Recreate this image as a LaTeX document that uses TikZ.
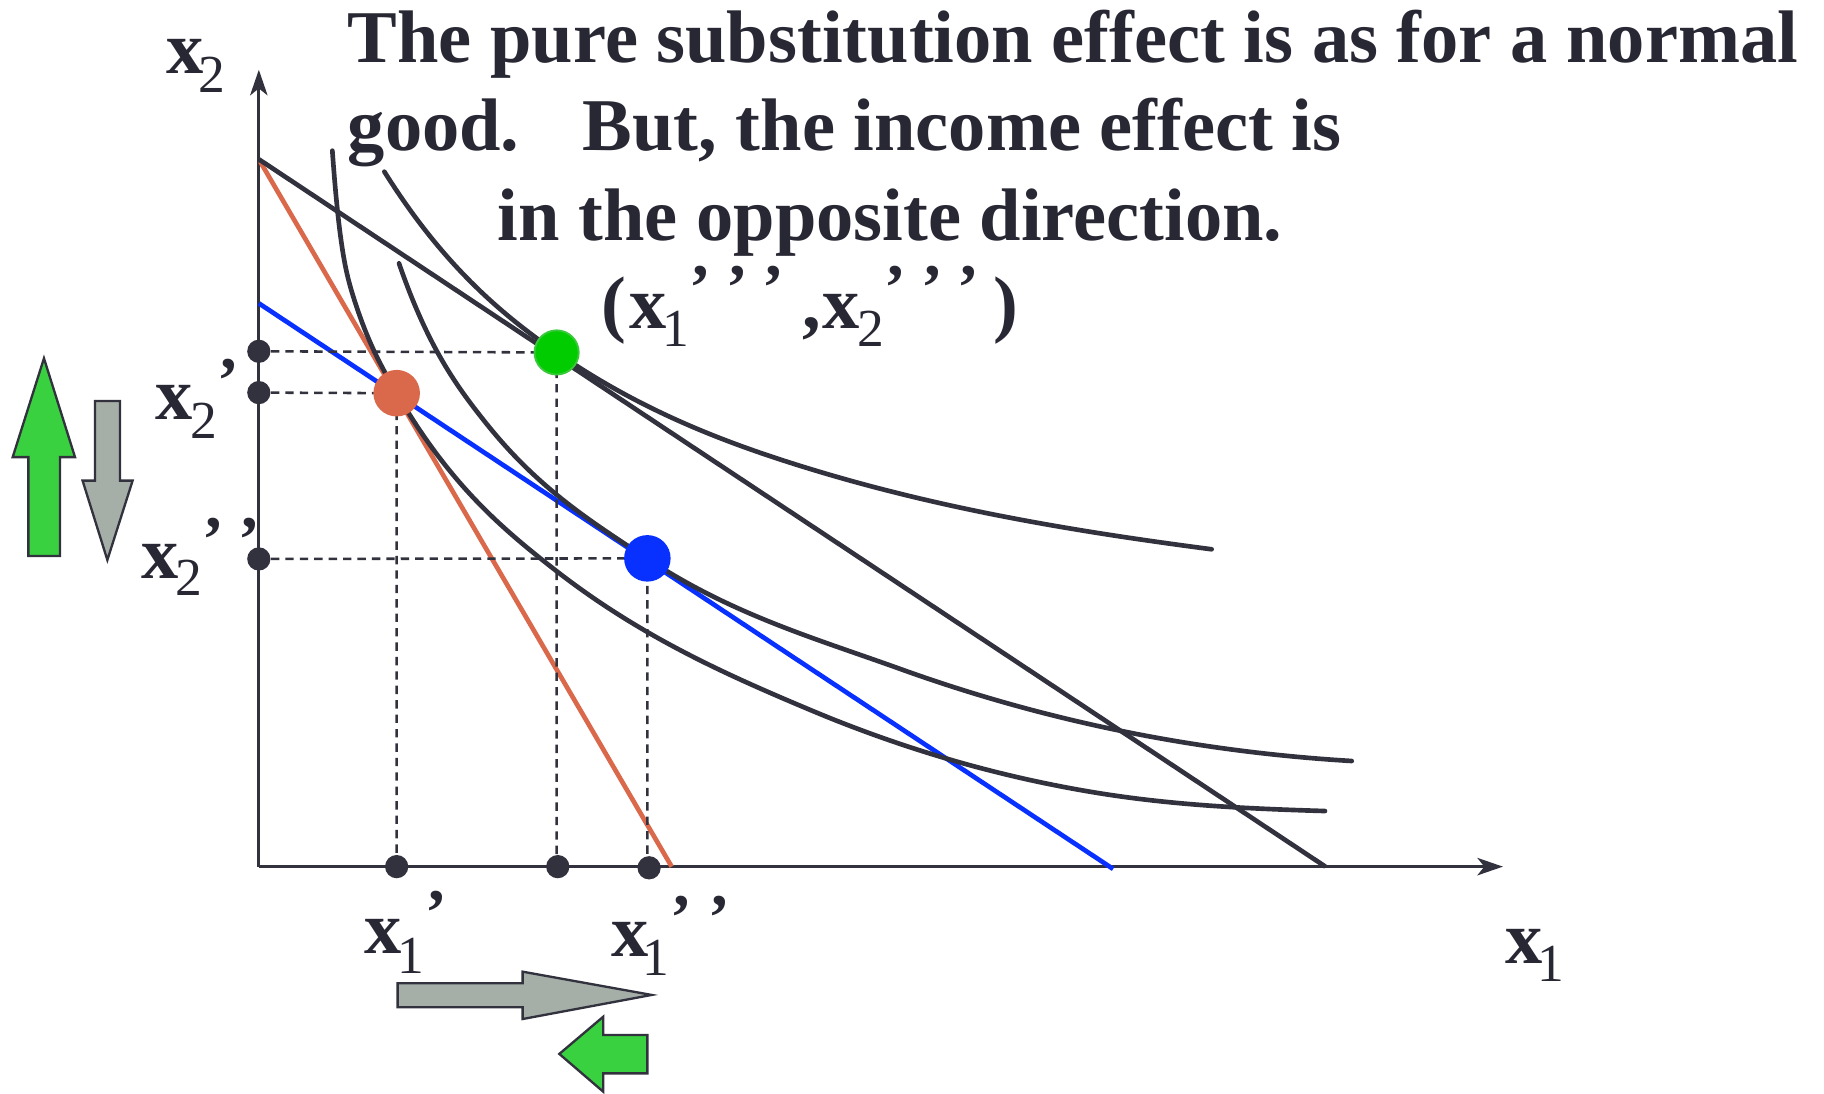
\documentclass[tikz,border=0pt]{standalone}
\usepackage{fontspec}
\setmainfont{Liberation Serif}
\usetikzlibrary{arrows.meta}
\definecolor{ink}{RGB}{40,40,52}
\definecolor{linec}{RGB}{50,50,62}
\definecolor{orng}{RGB}{218,104,74}
\definecolor{blu}{RGB}{8,48,255}
\definecolor{grn}{RGB}{0,204,0}
\definecolor{grnb}{RGB}{60,200,60}
\definecolor{agrn}{RGB}{58,209,64}
\definecolor{agry}{RGB}{166,174,168}
\newcommand{\sbs}[2]{\raisebox{-#1pt}{\fontsize{23}{28}\selectfont\mdseries #2}}
\newcommand{\prms}[2]{\raisebox{#1pt}{\fontsize{28}{34}\selectfont\bfseries #2}}
\newcommand{\pq}{’}
\begin{document}
\begin{tikzpicture}[x=0.5pt,y=-0.5pt,
  txt/.style={anchor=base west,inner sep=0pt,outer sep=0pt,text=ink,font=\fontsize{32}{38}\selectfont\bfseries},
  axisline/.style={draw=linec,line width=1.2pt,-{Stealth[length=11pt,width=7.5pt,inset=3pt]}},
  icurve/.style={draw=linec,line width=2pt,line cap=round},
  budget/.style={line width=2pt},
  guide/.style={draw=linec,line width=1.1pt,dash pattern=on 3.6pt off 2.6pt},
  axdot/.style={circle,fill=linec,inner sep=0pt,minimum size=10pt},
  bigdot/.style={circle,inner sep=0pt,minimum size=20pt},
  fatarrow/.style={draw=linec,line width=1pt,line join=miter}
]
\useasboundingbox (0,0) rectangle (1568,940);

% axes
\coordinate (O) at (222.5,745);
\coordinate (ytip) at (222.5,60);
\coordinate (xtip) at (1292,745);
\draw[axisline] (O) -- (ytip);
\draw[axisline] (O) -- (xtip);

% budget lines
\coordinate (oa) at (223.7,139);
\coordinate (ob) at (577.4,745);
\coordinate (ka) at (222.6,137);
\coordinate (kb) at (1139.4,745);
\coordinate (ba) at (222.6,260.8);
\coordinate (bb) at (956.9,747);
\draw[budget,draw=orng] (oa) -- (ob);
\draw[budget,draw=linec] (ka) -- (kb);
\draw[budget,draw=blu] (ba) -- (bb);

% indifference curves
\draw[icurve] (330.4,147.6) .. controls (379.77,226.3) and (429.13,268.9) .. (478.5,303)
  .. controls (552.33,354.02) and (626.17,381.86) .. (700,404.2)
  .. controls (813.87,438.66) and (927.73,457.32) .. (1041.6,472.2);
\draw[icurve] (343,226.4) .. controls (368,298.9) and (393,332.75) .. (418,364)
  .. controls (464,421.5) and (510,449.46) .. (556,480)
  .. controls (628.57,528.18) and (701.13,548.88) .. (773.7,575)
  .. controls (903.13,621.6) and (1032.57,646.43) .. (1162,654.2);
\draw[icurve] (285.7,129.5) .. controls (291.7,213.5) and (297.7,235.8) .. (303.7,255)
  .. controls (316.13,294.8) and (328.57,316.5) .. (341,338)
  .. controls (386.4,416.5) and (431.8,454.6) .. (477.2,490)
  .. controls (550.3,547.0) and (623.4,579.6) .. (696.5,610.3)
  .. controls (779.5,645.2) and (862.6,668.7) .. (945.6,682)
  .. controls (1010.1,692.3) and (1074.5,695.3) .. (1139,697.2);

% axis dots
\node[axdot] (y3) at (222.5,302) {};
\node[axdot] (y1) at (222.5,337.5) {};
\node[axdot] (y2) at (222.5,480.5) {};
\node[axdot] (x1d) at (341,745) {};
\node[axdot] (x3d) at (479.5,745) {};
\node[axdot] (x2d) at (558,746) {};

% choice points
\coordinate (pg) at (478.5,303);
\coordinate (po) at (341,338);
\coordinate (pb) at (556.5,480);

% guides
\draw[guide] (y3) -- (pg) -- (pg |- x3d.north);
\draw[guide] (y1) -- (po) -- (po |- x1d.north);
\draw[guide] (y2) -- (pb) -- (pb |- x2d.north);

\node[bigdot,fill=grn,draw=grnb,line width=0.8pt,minimum size=19pt] (G) at (pg) {};
\node[bigdot,fill=orng] (R) at (po) {};
\node[bigdot,fill=blu] (B) at (pb) {};

% title text
\node[txt] (t1) at (299,54) {The pure substitution effect is as for a normal};
\node[txt] (t2) at (299,129) {good.\hspace{0.85em}But, the income effect is};
\node[txt] (t3) at (428,207) {in the opposite direction.};

% point label (x1''' , x2''')
\node[txt] (lp) at (517,282.2) {(\hspace{1.35pt}x\hspace{-1.7pt}\sbs{7.9}{1}\hspace{0.2pt}\prms{7.9}{\pq\hspace{6.4pt}\pq\hspace{6.4pt}\pq}\hspace{7.7pt},\hspace{0.5pt}x\hspace{-0.8pt}\sbs{7.9}{2}\prms{7.9}{\pq\hspace{6.4pt}\pq\hspace{6.4pt}\pq}\hspace{5.9pt})};

% axis labels
\node[txt] (ax2) at (143,63.6) {x\hspace{-2pt}\sbs{8.05}{2}};
\node[txt] (ax1) at (1294,828) {x\hspace{-2pt}\sbs{7.95}{1}};
\node[txt] (lb2a) at (134,361) {x\hspace{-1pt}\sbs{7.9}{2}\hspace{0.2pt}\prms{7.5}{\pq}};
\node[txt] (lb2b) at (121.5,497) {x\hspace{-1.25pt}\sbs{7.5}{2}\hspace{-0.15pt}\prms{7}{\pq\hspace{6.4pt}\pq}};
\node[txt] (lb1a) at (313.5,819.5) {x\hspace{-1.9pt}\sbs{8.6}{1}\hspace{0.45pt}\prms{7.9}{\pq}};
\node[txt] (lb1b) at (525.3,822.4) {x\hspace{-2.5pt}\sbs{8.3}{1}\hspace{0.35pt}\prms{7.2}{\pq\hspace{7pt}\pq}};

% fat arrows
\draw[fatarrow,fill=agrn] (24.4,478) -- (51.6,478) -- (51.6,393) -- (64.5,393) -- (37.8,308) -- (10.9,393) -- (24.4,393) -- cycle;
\draw[fatarrow,fill=agry] (81.7,344.7) -- (103.2,344.7) -- (103.2,413.2) -- (114,413.2) -- (92.3,481.4) -- (71,413.2) -- (81.7,413.2) -- cycle;
\draw[fatarrow,fill=agry] (341.8,845.3) -- (449.3,845.3) -- (449.3,835.3) -- (560.2,855.3) -- (449.3,876) -- (449.3,865.9) -- (341.8,865.9) -- cycle;
\draw[fatarrow,fill=agrn] (556.5,889.7) -- (518.6,889.7) -- (518.6,874) -- (480.8,906) -- (518.6,938.5) -- (518.6,922.7) -- (556.5,922.7) -- cycle;
\end{tikzpicture}
\end{document}
